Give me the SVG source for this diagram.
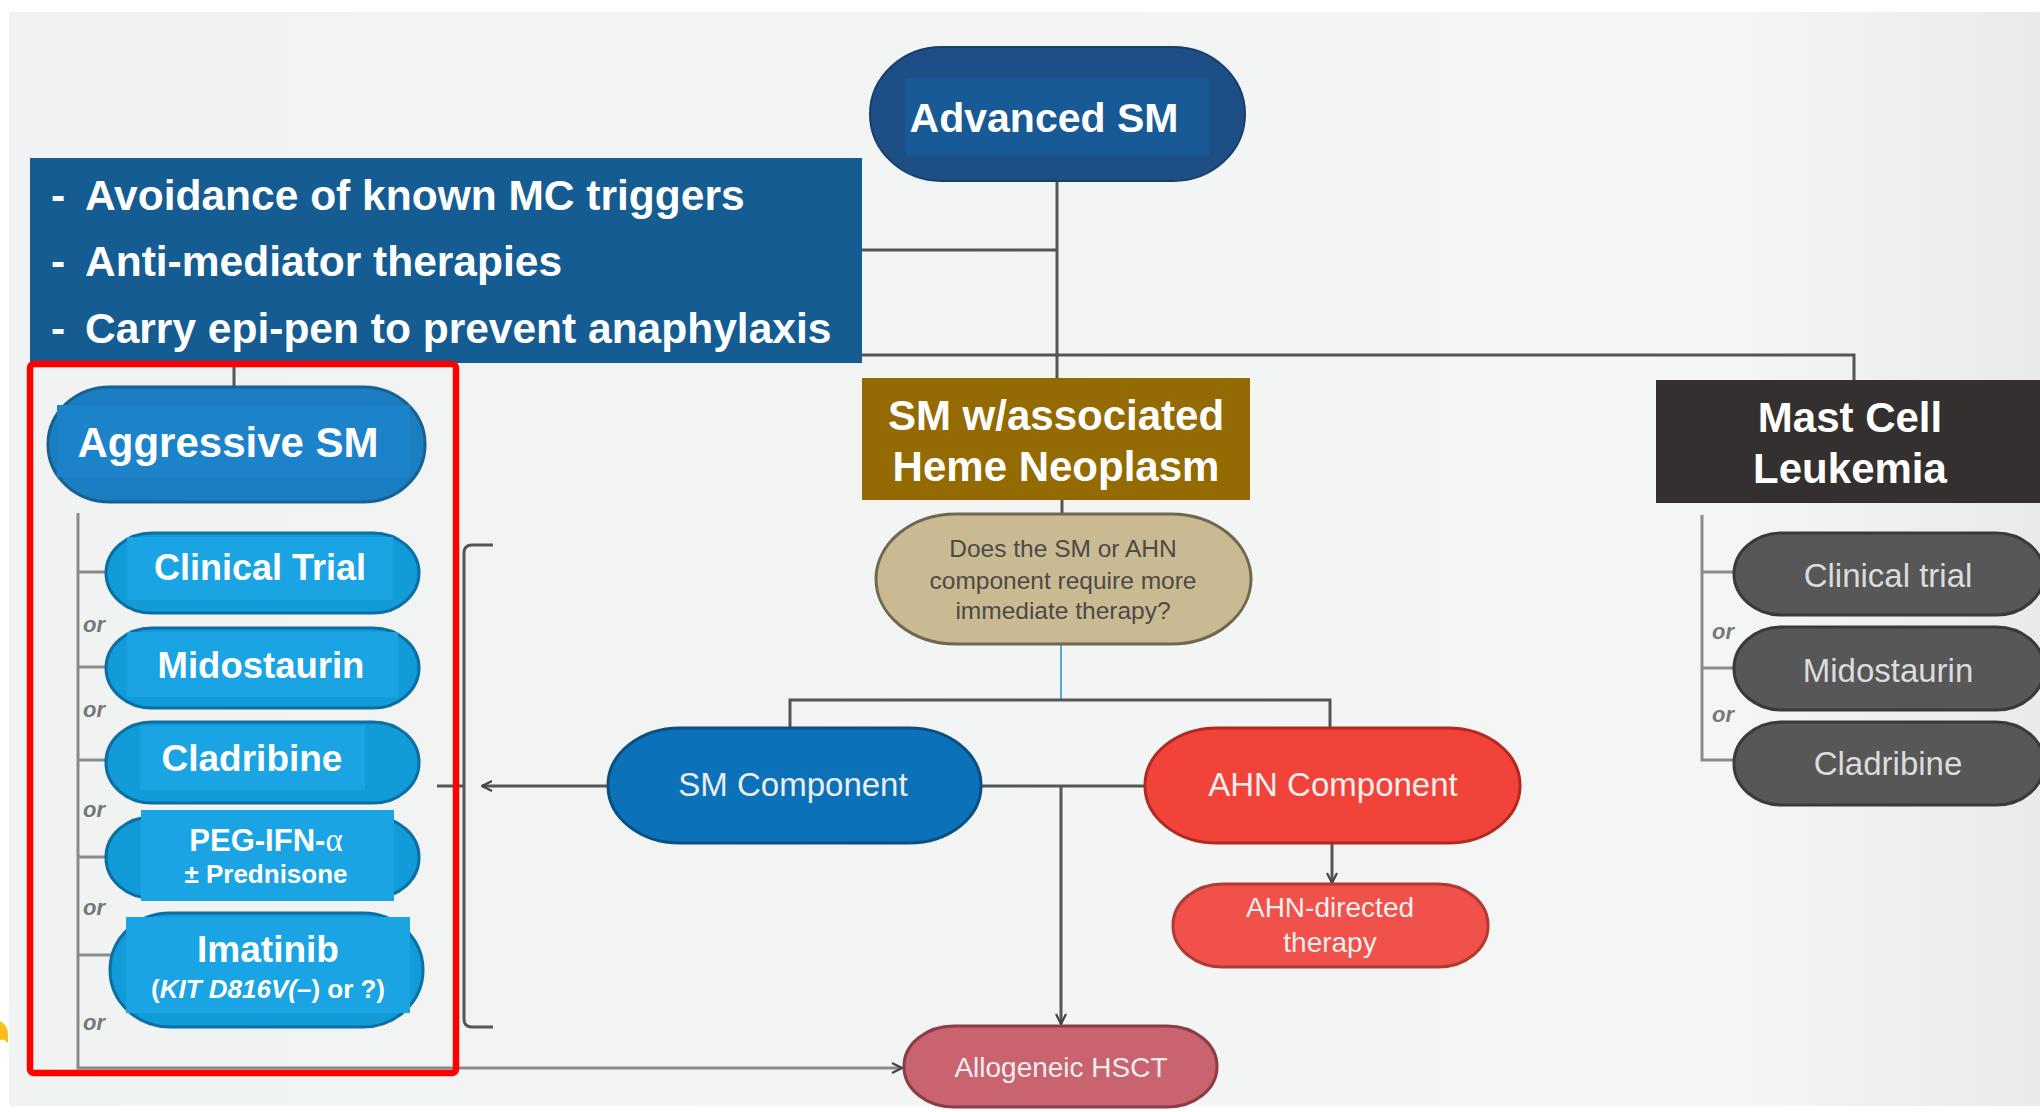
<svg xmlns="http://www.w3.org/2000/svg" width="2040" height="1112" viewBox="0 0 2040 1112">
<defs>
<linearGradient id="bg" x1="0" y1="0" x2="1" y2="0">
<stop offset="0" stop-color="#f1f2f2"/>
<stop offset="0.85" stop-color="#f4f5f5"/>
<stop offset="1" stop-color="#e9eaea"/>
</linearGradient>
<marker id="arr" viewBox="0 0 12 12" refX="11" refY="6" markerWidth="12" markerHeight="12" markerUnits="userSpaceOnUse" orient="auto">
<path d="M1,1 L11,6 L1,11" fill="none" stroke="#444" stroke-width="2.2"/>
</marker>
</defs>
<style>
.ln{fill:none;stroke:#555;stroke-width:3}
.lg{fill:none;stroke:#8a8a8a;stroke-width:3}
.wb{font-family:"Liberation Sans",Arial,sans-serif;font-weight:bold;fill:#fff}
.wr{font-family:"Liberation Sans",Arial,sans-serif;fill:#eee}
.or{font-family:"Liberation Sans",Arial,sans-serif;font-style:italic;font-weight:bold;font-size:22px;fill:#777}
.lb{fill:#119bd9;stroke:#0c6fa2;stroke-width:3}
.lbi{fill:#1aa4e4}
.gp{fill:#575757;stroke:#3a3a3a;stroke-width:3}
.gt{font-family:"Liberation Sans",Arial,sans-serif;font-size:33px;fill:#dcdcdc;text-anchor:middle}
</style>
<rect width="2040" height="1112" fill="#ffffff"/>
<rect x="9" y="12" width="2031" height="1094" fill="url(#bg)"/>
<path d="M0,1021 Q9,1026 8,1036 L8,1043 Q4,1038 0,1040 Z" fill="#fbbd1d"/>

<g id="connectors">
<path class="ln" d="M700,250 H1057"/>
<path class="ln" d="M1057,182 V380"/>
<path class="ln" d="M234,355 H1854 V380"/>
<path class="ln" d="M234,355 V388"/>
<path class="ln" d="M1062,500 V514"/>
<path d="M1061,644 V700" fill="none" stroke="#5ba8d6" stroke-width="2"/>
<path class="ln" d="M790,728 V700 H1330 V728"/>
<path class="ln" d="M981,786 H1145"/>
<path class="ln" d="M1061,786 V1024" marker-end="url(#arr)"/>
<path class="ln" d="M1332,843 V883" marker-end="url(#arr)"/>
<path class="ln" d="M608,786 H482" marker-end="url(#arr)"/>
<path class="ln" d="M493,545 H472 Q464,545 464,553 V1019 Q464,1027 472,1027 H493"/>
<path class="ln" d="M437,786 H464"/>
<path class="lg" d="M78,513 V1068 H902" marker-end="url(#arr)"/>
<path class="lg" d="M78,572 H110 M78,667 H110 M78,760 H110 M78,857 H110 M78,955 H112"/>
<path class="lg" d="M1702,515 V760 H1734 M1702,572 H1734 M1702,668 H1734"/>
</g>

<g id="bullets">
<rect x="30" y="158" width="832" height="205" fill="#145c92"/>
<text class="wb" font-size="42.5"><tspan x="51" y="210">-</tspan><tspan x="85" y="210">Avoidance of known MC triggers</tspan><tspan x="51" y="276">-</tspan><tspan x="85" y="276">Anti-mediator therapies</tspan><tspan x="51" y="343">-</tspan><tspan x="85" y="343">Carry epi-pen to prevent anaphylaxis</tspan></text>
</g>

<g id="advanced-sm">
<rect x="870" y="47" width="375" height="134" rx="72" ry="67" fill="#1d4f86" stroke="#173f6c" stroke-width="2"/>
<rect x="905" y="78" width="304" height="77" fill="#175a95"/>
<text class="wb" font-size="41" x="1044" y="132" text-anchor="middle">Advanced SM</text>
</g>

<g id="sm-ahn">
<rect x="862" y="378" width="388" height="122" fill="#946b02"/>
<text class="wb" font-size="42" text-anchor="middle"><tspan x="1056" y="430">SM w/associated</tspan><tspan x="1056" y="481">Heme Neoplasm</tspan></text>
</g>

<g id="mcl">
<rect x="1656" y="380" width="390" height="123" fill="#343030"/>
<text class="wb" font-size="42" text-anchor="middle"><tspan x="1850" y="432">Mast Cell</tspan><tspan x="1850" y="483">Leukemia</tspan></text>
</g>

<g id="red-frame">
<rect x="30" y="364" width="426" height="709" rx="4" fill="none" stroke="#ff0000" stroke-width="6.5"/>
</g>

<g id="aggressive-sm">
<rect x="48" y="387" width="377" height="115" rx="62" ry="57" fill="#1b7ec3" stroke="#16618f" stroke-width="3"/>
<rect x="57" y="405" width="353" height="72" fill="#1c82c9"/>
<text class="wb" font-size="42" x="228" y="457" text-anchor="middle">Aggressive SM</text>
</g>

<g id="clinical-trial">
<rect class="lb" x="106" y="533" width="313" height="80" rx="46" ry="40"/>
<rect class="lbi" x="127" y="537" width="266" height="63"/>
<text class="wb" font-size="36" x="260" y="580" text-anchor="middle">Clinical Trial</text>
</g>
<g id="midostaurin">
<rect class="lb" x="106" y="628" width="313" height="80" rx="46" ry="40"/>
<rect class="lbi" x="127" y="632" width="271" height="65"/>
<text class="wb" font-size="36.5" x="261" y="678" text-anchor="middle">Midostaurin</text>
</g>
<g id="cladribine">
<rect class="lb" x="106" y="722" width="313" height="81" rx="46" ry="40"/>
<rect class="lbi" x="140" y="726" width="225" height="64"/>
<text class="wb" font-size="37" x="252" y="771" text-anchor="middle">Cladribine</text>
</g>
<g id="peg-ifn">
<rect class="lb" x="106" y="817" width="313" height="81" rx="46" ry="40"/>
<rect class="lbi" x="141" y="810" width="253" height="91"/>
<text class="wb" font-size="31" x="266" y="851" text-anchor="middle">PEG-IFN-<tspan font-family="'Liberation Serif',serif" font-weight="normal" font-size="33">α</tspan></text>
<text class="wb" font-size="26" x="266" y="883" text-anchor="middle">± Prednisone</text>
</g>
<g id="imatinib">
<rect class="lb" x="110" y="913" width="313" height="114" rx="60" ry="57"/>
<rect class="lbi" x="126" y="917" width="284" height="96"/>
<text class="wb" font-size="37" x="268" y="962" text-anchor="middle">Imatinib</text>
<text class="wb" font-size="26" x="268" y="998" text-anchor="middle">(<tspan font-style="italic">KIT D816V(–</tspan>) or ?)</text>
</g>
<g id="or-left">
<text class="or" x="83" y="632">or</text>
<text class="or" x="83" y="717">or</text>
<text class="or" x="83" y="817">or</text>
<text class="or" x="83" y="915">or</text>
<text class="or" x="83" y="1030">or</text>
</g>

<g id="question">
<rect x="876" y="514" width="375" height="130" rx="80" ry="65" fill="#c9ba91" stroke="#6f6750" stroke-width="3"/>
<text font-family="'Liberation Sans',Arial,sans-serif" font-size="24.5" fill="#4a4a4a" text-anchor="middle"><tspan x="1063" y="557">Does the SM or AHN</tspan><tspan x="1063" y="589">component require more</tspan><tspan x="1063" y="619">immediate therapy?</tspan></text>
</g>

<g id="sm-component">
<rect x="608" y="728" width="373" height="115" rx="72" ry="57" fill="#0b72b9" stroke="#0a4f80" stroke-width="3"/>
<text class="wr" font-size="33" x="793" y="796" text-anchor="middle" fill="#d4e8f5">SM Component</text>
</g>

<g id="ahn-component">
<rect x="1145" y="728" width="375" height="115" rx="72" ry="57" fill="#f2433a" stroke="#b02a22" stroke-width="3"/>
<text class="wr" font-size="33" x="1333" y="796" text-anchor="middle" fill="#fbe0dc">AHN Component</text>
</g>

<g id="ahn-directed">
<rect x="1173" y="884" width="315" height="83" rx="50" ry="41" fill="#f0514a" stroke="#b33a33" stroke-width="3"/>
<text class="wr" font-size="28" text-anchor="middle" fill="#f7dcd8"><tspan x="1330" y="917">AHN-directed</tspan><tspan x="1330" y="952">therapy</tspan></text>
</g>

<g id="allo-hsct">
<rect x="904" y="1026" width="313" height="81" rx="50" ry="40" fill="#c9636f" stroke="#8c3c45" stroke-width="3"/>
<text class="wr" font-size="28" x="1061" y="1077" text-anchor="middle" fill="#f3dfe0">Allogeneic HSCT</text>
</g>

<g id="mcl-clinical-trial">
<rect class="gp" x="1734" y="533" width="310" height="82" rx="48" ry="41"/>
<text class="gt" x="1888" y="587">Clinical trial</text>
</g>
<g id="mcl-midostaurin">
<rect class="gp" x="1734" y="627" width="310" height="83" rx="48" ry="41"/>
<text class="gt" x="1888" y="682">Midostaurin</text>
</g>
<g id="mcl-cladribine">
<rect class="gp" x="1734" y="722" width="310" height="83" rx="48" ry="41"/>
<text class="gt" x="1888" y="775">Cladribine</text>
</g>
<g id="or-right">
<text class="or" x="1712" y="639">or</text>
<text class="or" x="1712" y="722">or</text>
</g>
</svg>
